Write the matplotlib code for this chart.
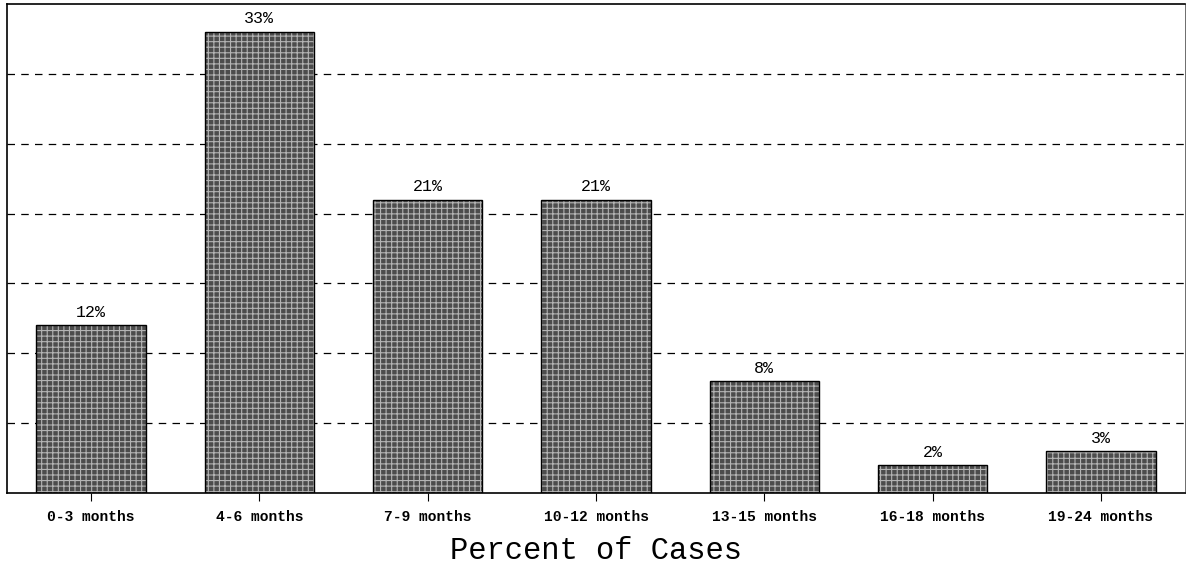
import matplotlib
matplotlib.use('Agg')
import matplotlib.pyplot as plt

# data
categories = ['0-3 months', '4-6 months', '7-9 months', '10-12 months',
              '13-15 months', '16-18 months', '19-24 months']
percent = [12, 33, 21, 21, 8, 2, 3]
value_labels = ['12%', '33%', '21%', '21%', '8%', '2%', '3%']
grid_levels = [5, 10, 15, 20, 25, 30]

plt.rcParams['hatch.linewidth'] = 0.8

fig = plt.figure(figsize=(11.88, 5.66), dpi=100)
fig.patch.set_facecolor('white')
ax = fig.add_axes([7 / 1188, 73 / 566, 1178 / 1188, 489 / 566])

x = list(range(len(categories)))

# dithered grey fill: dark face with a light hatch, then black outline
ax.bar(x, percent, width=0.65, color='#4c4c4c', edgecolor='#b4b4b4',
       hatch='+++', linewidth=0, zorder=2)
ax.bar(x, percent, width=0.65, fill=False, edgecolor='black', linewidth=1.0, zorder=3)

for xi, v, lab in zip(x, percent, value_labels):
    ax.annotate(lab, (xi, v), xytext=(0, 4), textcoords='offset points',
                ha='center', va='bottom', fontsize=12, family='Liberation Mono')

ax.set_xlim(-0.5, 6.5)
ax.set_ylim(0, 35)
ax.set_yticks(grid_levels)
ax.set_yticklabels([])
ax.tick_params(axis='y', length=0)
ax.yaxis.grid(True, linestyle=(0, (6, 5)), color='black', linewidth=0.9)
ax.set_axisbelow(True)

ax.set_xticks(x)
ax.set_xticklabels(categories, fontsize=10.5, family='Liberation Mono', fontweight='bold')
ax.tick_params(axis='x', length=6, width=0.8, direction='out', pad=6)

ax.set_xlabel('Percent of Cases', fontsize=22, family='Liberation Mono', labelpad=9)

for side in ['left', 'top', 'bottom']:
    ax.spines[side].set_linewidth(1.2)
ax.spines['right'].set_linewidth(0.6)
ax.spines['right'].set_color('#555555')

fig.savefig('out.png', dpi=100)
